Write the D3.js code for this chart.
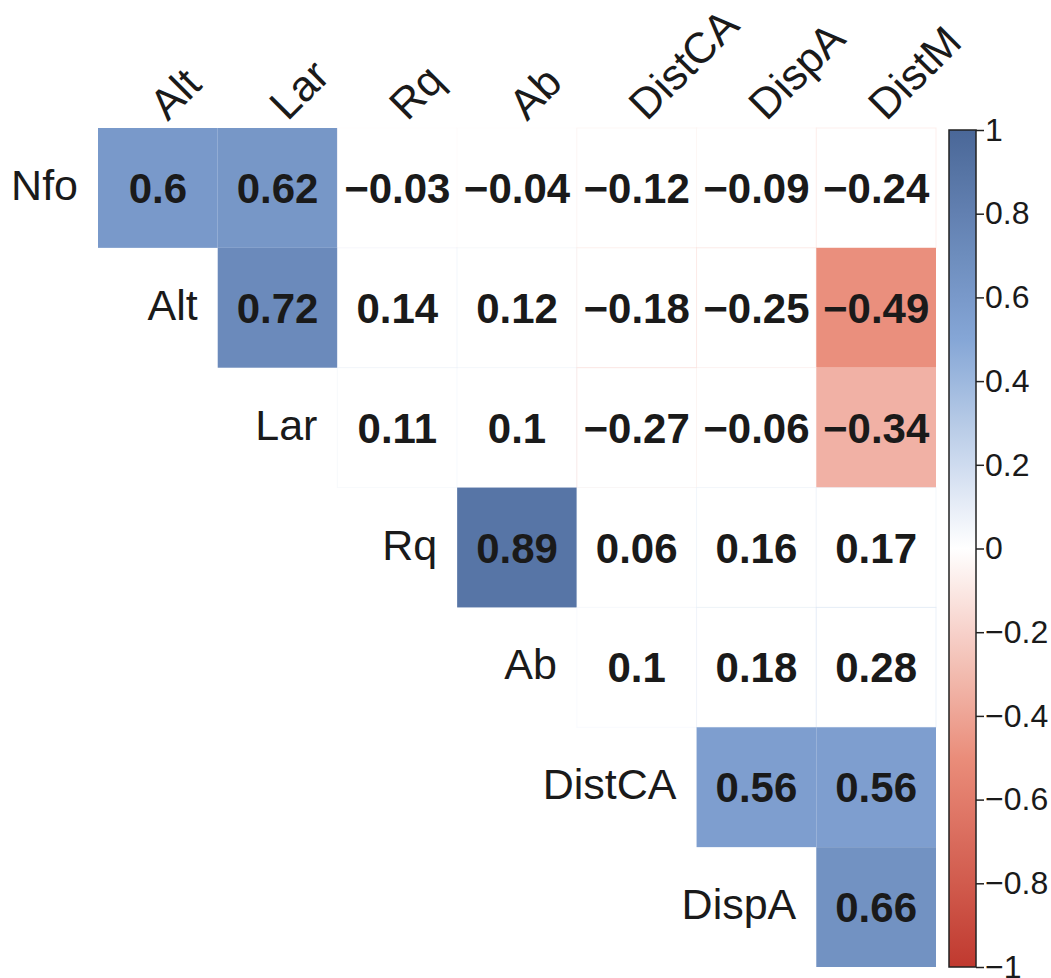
<!DOCTYPE html>
<html>
<head>
<meta charset="utf-8">
<script src="https://cdn.jsdelivr.net/npm/d3@7"></script>
<style>
  body { margin: 0; background: #fff; }
  text { font-family: "Liberation Sans", Arial, sans-serif; fill: #1a1a1a; }
</style>
</head>
<body>
<svg id="corr"></svg>
<script>
// Row and column variables of the upper-triangle matrix
var rowNames = ["Nfo", "Alt", "Lar", "Rq", "Ab", "DistCA", "DispA"];
var colNames = ["Alt", "Lar", "Rq", "Ab", "DistCA", "DispA", "DistM"];

// Correlations per row, starting at the diagonal column
var nfoVals    = [0.6, 0.62, -0.03, -0.04, -0.12, -0.09, -0.24];
var altVals    = [0.72, 0.14, 0.12, -0.18, -0.25, -0.49];
var larVals    = [0.11, 0.1, -0.27, -0.06, -0.34];
var rqVals     = [0.89, 0.06, 0.16, 0.17];
var abVals     = [0.1, 0.18, 0.28];
var distcaVals = [0.56, 0.56];
var dispaVals  = [0.66];

// 1 = significant (cell coloured), 0 = left blank
var nfoSig    = [1, 1, 0, 0, 0, 0, 0];
var altSig    = [1, 0, 0, 0, 0, 1];
var larSig    = [0, 0, 0, 0, 1];
var rqSig     = [1, 0, 0, 0];
var abSig     = [0, 0, 0];
var distcaSig = [1, 1];
var dispaSig  = [1];

var legendTicks = [1, 0.8, 0.6, 0.4, 0.2, 0, -0.2, -0.4, -0.6, -0.8, -1];

var rowVals = [nfoVals, altVals, larVals, rqVals, abVals, distcaVals, dispaVals];
var rowSig  = [nfoSig, altSig, larSig, rqSig, abSig, distcaSig, dispaSig];

var width = 1051, height = 978;
var svg = d3.select("#corr").attr("width", width).attr("height", height);

var x = d3.scaleBand().domain(colNames).range([98, 936]).padding(0);
var y = d3.scaleBand().domain(rowNames).range([128, 967]).padding(0);

var color = d3.scaleLinear()
              .domain([-1, -0.5, 0, 0.5, 1])
              .range(["#c0392f", "#ea8d7a", "#ffffff", "#85a6d6", "#4a6798"])
              .interpolate(d3.interpolateRgb);

// Flatten rows into cells
var cells = [];
rowNames.forEach(function(r, i) {
    rowVals[i].forEach(function(v, k) {
        cells.push({row: r, col: colNames[i + k], value: v, sig: rowSig[i][k]});
    });
});

var fmt = function(v) { return String(v).replace("-", "\u2212"); };

var grid = svg.append("g").classed("grid", true);

grid.selectAll(".cell")
    .data(cells)
    .enter()
    .append("rect")
      .classed("cell", true)
      .attr("x", d => x(d.col))
      .attr("y", d => y(d.row))
      .attr("width", x.bandwidth())
      .attr("height", y.bandwidth())
      .attr("fill", d => d.sig ? color(d.value) : "#ffffff")
      .attr("stroke", d => d.sig ? "none" : color(d.value))
      .attr("stroke-opacity", 0.3)
      .attr("stroke-width", 1);

grid.selectAll(".val")
    .data(cells)
    .enter()
    .append("text")
      .classed("val", true)
      .attr("x", d => x(d.col) + x.bandwidth() / 2)
      .attr("y", d => y(d.row) + y.bandwidth() / 2 + 15)
      .attr("text-anchor", "middle")
      .attr("font-size", "42px")
      .attr("font-weight", "bold")
      .text(d => fmt(d.value));

// Row labels sit left of each row's first cell
svg.selectAll(".row-label")
    .data(rowNames)
    .enter()
    .append("text")
      .classed("row-label", true)
      .attr("x", (d, i) => x(colNames[i]) - 20)
      .attr("y", d => y(d) + y.bandwidth() / 2 + 12)
      .attr("text-anchor", "end")
      .attr("font-size", "43px")
      .text(d => d);

// Column labels, rotated
svg.selectAll(".col-label")
    .data(colNames)
    .enter()
    .append("text")
      .classed("col-label", true)
      .attr("transform", d => "translate(" + (x(d) + x.bandwidth() / 2 + 10) + ",122) rotate(-45)")
      .attr("text-anchor", "start")
      .attr("font-size", "43px")
      .text(d => d);

// Colour bar
var barX = 949, barW = 27;
var cy = d3.scaleLinear().domain([-1, 1]).range([967, 130]);

var defs = svg.append("defs");
var grad = defs.append("linearGradient")
               .attr("id", "cbar")
               .attr("x1", 0).attr("y1", 1)
               .attr("x2", 0).attr("y2", 0);
d3.range(-1, 1.001, 0.1).forEach(function(t) {
    grad.append("stop")
        .attr("offset", ((t + 1) / 2 * 100) + "%")
        .attr("stop-color", color(t));
});

svg.append("rect")
    .attr("x", barX)
    .attr("y", cy(1))
    .attr("width", barW)
    .attr("height", cy(-1) - cy(1))
    .attr("fill", "url(#cbar)")
    .attr("stroke", "#222")
    .attr("stroke-width", 1.5);

var tickFmt = d3.format(".1~f");
var axis = d3.axisRight(cy)
             .tickValues(legendTicks)
             .tickSize(8)
             .tickPadding(1)
             .tickFormat(d => tickFmt(d));

var ax = svg.append("g")
            .attr("transform", "translate(" + (barX + barW) + ",0)")
            .call(axis);
ax.select(".domain").remove();
ax.selectAll(".tick line").attr("stroke", "#222").attr("stroke-width", 1.5);
ax.selectAll(".tick text")
  .attr("font-size", "32px")
  .attr("font-family", "Liberation Sans, Arial, sans-serif")
  .attr("fill", "#1a1a1a");
</script>
</body>
</html>
